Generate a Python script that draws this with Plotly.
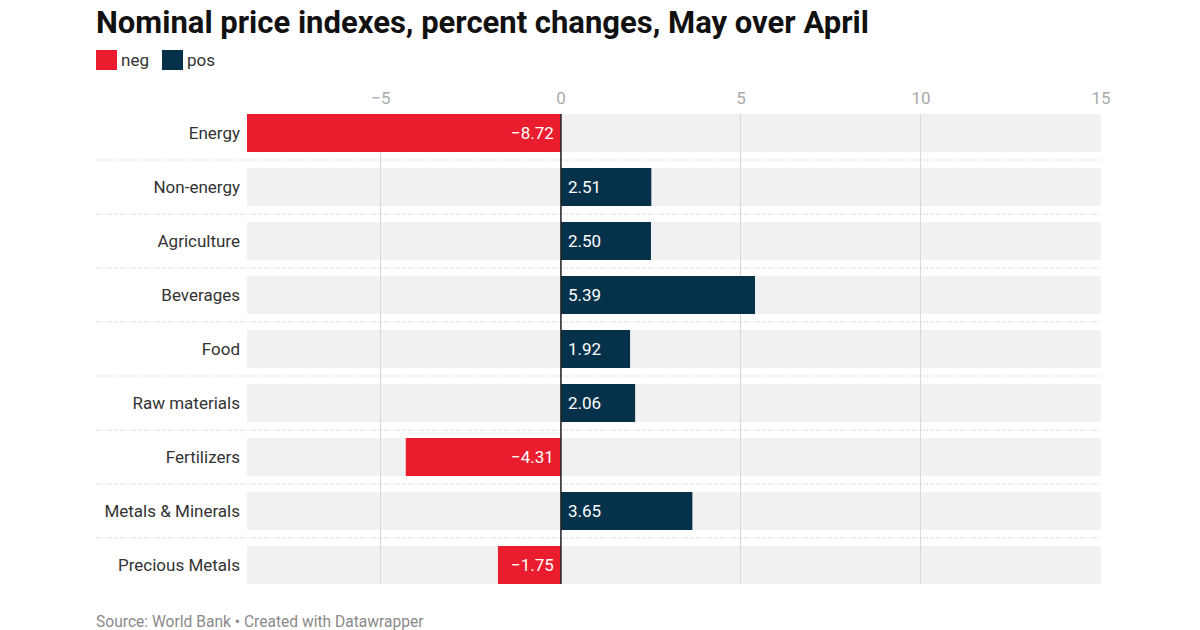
import plotly.graph_objects as go

CATEGORIES = ["Energy", "Non-energy", "Agriculture", "Beverages", "Food",
              "Raw materials", "Fertilizers", "Metals & Minerals", "Precious Metals"]
VALUES = [-8.72, 2.51, 2.50, 5.39, 1.92, 2.06, -4.31, 3.65, -1.75]
TICKS = [-5, 0, 5, 10, 15]
AXIS_MAX = 15
SERIES = ["neg", "pos"]
COLORS = ["#e91d2d", "#05314b"]

FONT = "Roboto"

# figure box (the page adds an 8px body margin, so size is 8px smaller than the window)
W, H = 1192, 622
L, R, T, B = 239, 99, 106, 46
PW, PH = W - L - R, H - T - B


def px(x):
    return (x - L) / PW


def py(y):
    return 1 - (y - T) / PH


def fmt(v):
    s = f"{abs(v):.2f}"
    return ("\u2212" + s) if v < 0 else s


def tick_text(t):
    return ("\u2212" + str(abs(t))) if t < 0 else str(t)


def main():
    fig = go.Figure()
    for name, color in zip(SERIES, COLORS):
        vals = [v if (v < 0) == (name == "neg") else None for v in VALUES]
        fig.add_trace(go.Bar(
            name=name, y=CATEGORIES, x=vals, orientation="h",
            marker=dict(color=color, line=dict(width=0)),
            hoverinfo="skip", width=0.7, showlegend=False,
        ))

    # light gray background bands behind each row
    for i in range(len(CATEGORIES)):
        fig.add_shape(type="rect", xref="x domain", yref="y",
                      x0=0, x1=1, y0=i - 0.35, y1=i + 0.35,
                      fillcolor="#f1f1f1", line_width=0, layer="below")
    # dotted separators between rows
    for i in range(len(CATEGORIES) - 1):
        fig.add_shape(type="line", xref="paper", yref="y",
                      x0=px(88), x1=1, y0=i + 0.5, y1=i + 0.5,
                      line=dict(color="#c4c4c4", width=1, dash="1px,2px"))
    # zero line on top
    fig.add_shape(type="line", xref="x", yref="y domain", x0=0, x1=0, y0=0, y1=1,
                  line=dict(color="#222222", width=1.5), layer="above")

    annotations = []
    # value labels next to the zero line
    for cat, v in zip(CATEGORIES, VALUES):
        annotations.append(dict(
            x=0, y=cat, xref="x", yref="y", text=fmt(v), showarrow=False,
            xanchor="right" if v < 0 else "left", xshift=-5 if v < 0 else 5,
            font=dict(size=17, color="white", family=FONT)))

    # legend drawn by hand (larger swatches than plotly's own legend)
    lx = 88
    for name, color in zip(SERIES, COLORS):
        fig.add_shape(type="rect", xref="paper", yref="paper",
                      x0=px(lx), x1=px(lx + 21), y0=py(42), y1=py(62),
                      fillcolor=color, line_width=0)
        annotations.append(dict(
            x=px(lx + 23), y=py(52), xref="paper", yref="paper", text=name,
            xanchor="left", yanchor="middle", showarrow=False,
            font=dict(size=17, color="#333333", family=FONT)))
        lx += 66

    annotations.append(dict(
        text="Source: World Bank \u2022 Created with Datawrapper",
        xref="paper", yref="paper", x=px(86), xanchor="left",
        y=py(614), yanchor="middle", showarrow=False,
        font=dict(size=15.6, color="#8a8a8a", family=FONT)))

    fig.update_layout(
        width=W, height=H,
        margin=dict(l=L, r=R, t=T, b=B, pad=0),
        paper_bgcolor="white", plot_bgcolor="rgba(0,0,0,0)",
        barmode="overlay", showlegend=False,
        font=dict(family=FONT, color="#333333"),
        title=dict(text="<b>Nominal price indexes, percent changes, May over April</b>",
                   x=88 / W, xanchor="left", y=1, yanchor="top",
                   pad=dict(t=3, b=0, l=0, r=0),
                   font=dict(size=31, color="#111111", family=FONT)),
        xaxis=dict(range=[min(VALUES), AXIS_MAX], side="top", tickvals=TICKS,
                   ticktext=[tick_text(t) for t in TICKS],
                   tickfont=dict(size=17, color="#aaaaaa"), ticklabelstandoff=6,
                   showgrid=True, gridcolor="#d8d8d8", gridwidth=1,
                   zeroline=False, showline=False, ticks="", fixedrange=True),
        yaxis=dict(range=[len(CATEGORIES) - 1 + 0.352, -0.352],
                   tickfont=dict(size=17, color="#333333"), ticklabelstandoff=6,
                   showgrid=False, zeroline=False, ticks="", fixedrange=True),
        annotations=annotations,
    )
    fig.write_html("out.html")


if __name__ == "__main__":
    main()
